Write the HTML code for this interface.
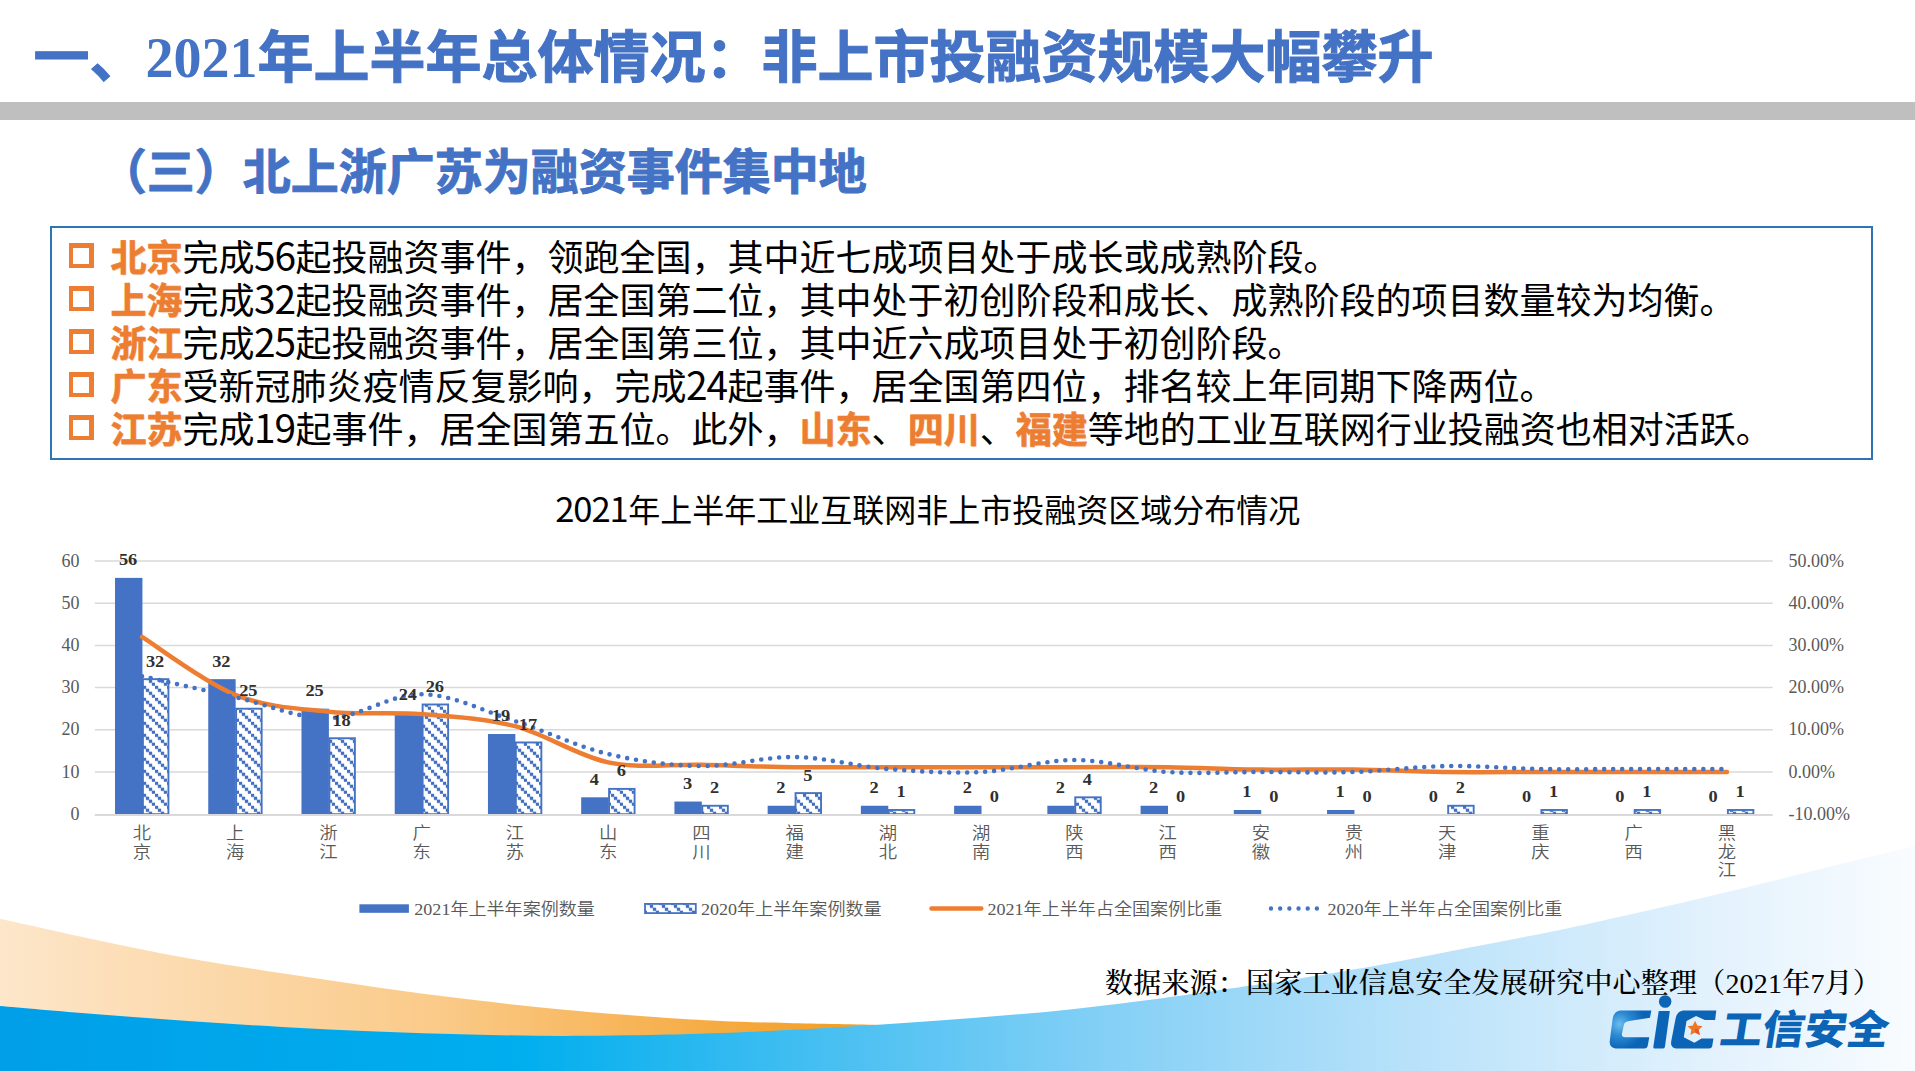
<!DOCTYPE html>
<html lang="zh-CN">
<head>
<meta charset="utf-8">
<title>2021年上半年总体情况</title>
<style>
html,body{margin:0;padding:0;}
body{width:1915px;height:1071px;position:relative;overflow:hidden;background:#fff;font-family:"Liberation Sans","Noto Sans CJK SC",sans-serif;}
.abs{position:absolute;white-space:nowrap;}
#bg{position:absolute;left:0;top:0;}
#title{left:33.5px;top:21.8px;-webkit-text-stroke:1px #4472C4;font-size:56px;line-height:72px;font-weight:700;color:#4472C4;}
#title .n{font-family:"Liberation Serif",serif;-webkit-text-stroke:0;}
#bar{position:absolute;left:0;top:102px;width:1915px;height:18px;background:#BFBFBF;}
#sub{left:98.8px;top:140.5px;-webkit-text-stroke:1px #4472C4;font-size:48px;line-height:64px;font-weight:700;color:#4472C4;}
#box{position:absolute;left:50px;top:226px;width:1819px;height:230px;border:2px solid #2E75B6;background:#fff;}
.ln{position:absolute;left:67.5px;font-size:36px;line-height:43px;height:43px;color:#000;white-space:nowrap;}
.ln b{color:#ED7D31;font-weight:700;-webkit-text-stroke:0.6px #ED7D31;text-shadow:0.6px 0.6px 1px rgba(200,100,30,.35);}
.ln .sq{position:absolute;left:1px;top:6.3px;width:25.2px;height:24.8px;background:#ED7D31;}
.ln .sq::after{content:"";position:absolute;left:4.7px;top:4.7px;right:4.7px;bottom:4.7px;background:#fff;}
.ln .t{position:absolute;left:43px;top:0;}
.d{font-family:"Noto Sans CJK SC",sans-serif;font-size:1.08em;letter-spacing:-1.1px;margin-left:-0.5px;margin-right:0.6px;line-height:0;}
#ctitle{left:0;width:1856px;text-align:center;top:487.5px;font-size:32px;line-height:46px;color:#000;}
#chart{position:absolute;left:0;top:0;}
#chart text.num{font-family:"Liberation Serif",serif;}
#chart text.cjk{font-family:"Noto Sans CJK SC",sans-serif;}
#chart text.mix{font-family:"Liberation Serif","Noto Sans CJK SC",serif;}
#src{left:1105px;top:964px;font-size:28px;line-height:40px;letter-spacing:0.2px;font-weight:500;color:#000;font-family:"Liberation Serif","Noto Serif CJK SC",serif;}
#logo{position:absolute;left:0;top:0;}
</style>
</head>
<body>
<svg id="bg" width="1915" height="1071" viewBox="0 0 1915 1071">
<defs>
<linearGradient id="gb" x1="0" y1="0" x2="1915" y2="0" gradientUnits="userSpaceOnUse">
<stop offset="0" stop-color="#009FE8"/><stop offset="0.27" stop-color="#00AEEE"/><stop offset="0.42" stop-color="#42BEF1"/><stop offset="0.58" stop-color="#85D0F6"/><stop offset="0.75" stop-color="#BCE3FA"/><stop offset="0.9" stop-color="#E4F2FD"/><stop offset="1" stop-color="#F9FCFF"/>
</linearGradient>
<linearGradient id="go" x1="0" y1="0" x2="884" y2="0" gradientUnits="userSpaceOnUse">
<stop offset="0" stop-color="#FDE6CA"/><stop offset="0.5" stop-color="#FACA88"/><stop offset="0.85" stop-color="#F5A73A"/><stop offset="1" stop-color="#F39C1F"/>
</linearGradient>
</defs>
<path d="M-10.0,916.5 C-8.3,916.9 -17.3,915.0 0.0,918.8 C17.3,922.6 62.7,932.9 94.0,939.5 C125.3,946.1 156.7,952.7 188.0,958.3 C219.3,963.9 250.7,968.5 282.0,973.3 C313.3,978.1 344.7,982.8 376.0,987.2 C407.3,991.6 438.7,995.8 470.0,999.6 C501.3,1003.4 532.7,1006.8 564.0,1009.8 C595.3,1012.8 632.0,1015.4 658.0,1017.3 C684.0,1019.2 698.3,1020.0 720.0,1021.0 C741.7,1022.0 761.0,1022.3 788.0,1023.0 C815.0,1023.7 863.3,1024.6 882.0,1025.0 C900.7,1025.4 897.0,1025.4 900.0,1025.5 L900,1071 L-10,1071 Z" fill="url(#go)"/>
<path d="M-10.0,1005.0 C-8.3,1005.2 -17.3,1004.5 0.0,1006.0 C17.3,1007.5 62.7,1011.5 94.0,1014.0 C125.3,1016.5 156.7,1018.8 188.0,1021.0 C219.3,1023.2 250.7,1025.2 282.0,1027.0 C313.3,1028.8 344.7,1030.3 376.0,1031.6 C407.3,1032.9 438.7,1033.9 470.0,1034.6 C501.3,1035.3 532.7,1035.9 564.0,1035.9 C595.3,1035.9 632.0,1035.3 658.0,1034.8 C684.0,1034.3 698.3,1033.8 720.0,1033.0 C741.7,1032.2 761.0,1031.4 788.0,1030.0 C815.0,1028.6 850.7,1026.5 882.0,1024.4 C913.3,1022.4 944.7,1020.2 976.0,1017.7 C1007.3,1015.2 1038.7,1012.7 1070.0,1009.4 C1101.3,1006.1 1132.7,1002.1 1164.0,998.0 C1195.3,993.9 1235.3,987.9 1258.0,984.6 C1280.7,981.4 1279.1,981.9 1300.0,978.5 C1320.9,975.1 1355.8,969.4 1383.6,964.3 C1411.4,959.2 1439.2,953.5 1467.0,948.1 C1494.8,942.7 1525.2,937.0 1550.7,931.8 C1576.2,926.6 1598.1,921.5 1620.0,916.7 C1641.9,911.9 1657.9,908.4 1682.0,902.8 C1706.1,897.2 1737.0,889.7 1764.5,883.0 C1792.0,876.3 1821.7,868.7 1846.8,862.5 C1871.9,856.3 1902.0,849.2 1915.0,846.0 C1928.0,842.8 1923.3,843.9 1925.0,843.5 L1925,1071 L-10,1071 Z" fill="url(#gb)"/>
</svg>
<div id="title" class="abs">一、<span class="n">2021</span>年上半年总体情况：非上市投融资规模大幅攀升</div>
<div id="bar"></div>
<div id="sub" class="abs">（三）北上浙广苏为融资事件集中地</div>
<div id="box"></div>
<div class="ln" style="top:237.2px"><span class="sq"></span><span class="t"><b>北京</b>完成<span class="d">56</span>起投融资事件，领跑全国，其中近七成项目处于成长或成熟阶段。</span></div>
<div class="ln" style="top:280.2px"><span class="sq"></span><span class="t"><b>上海</b>完成<span class="d">32</span>起投融资事件，居全国第二位，其中处于初创阶段和成长、成熟阶段的项目数量较为均衡。</span></div>
<div class="ln" style="top:323.2px"><span class="sq"></span><span class="t"><b>浙江</b>完成<span class="d">25</span>起投融资事件，居全国第三位，其中近六成项目处于初创阶段。</span></div>
<div class="ln" style="top:366.2px"><span class="sq"></span><span class="t"><b>广东</b>受新冠肺炎疫情反复影响，完成<span class="d">24</span>起事件，居全国第四位，排名较上年同期下降两位。</span></div>
<div class="ln" style="top:409.2px"><span class="sq"></span><span class="t"><b>江苏</b>完成<span class="d">19</span>起事件，居全国第五位。此外，<b>山东</b>、<b>四川</b>、<b>福建</b>等地的工业互联网行业投融资也相对活跃。</span></div>
<div id="ctitle" class="abs"><span class="d">2021</span>年上半年工业互联网非上市投融资区域分布情况</div>
<svg id="chart" width="1915" height="1071" viewBox="0 0 1915 1071">
<defs><pattern id="hatch" width="12" height="12" patternUnits="userSpaceOnUse" patternTransform="translate(11,1.8)"><rect width="12" height="12" fill="#fff"/><rect x="-0.15" y="-0.15" width="3.3" height="3.3" fill="#4170C2"/><rect x="2.85" y="2.85" width="3.3" height="3.3" fill="#4170C2"/><rect x="5.85" y="5.85" width="3.3" height="3.3" fill="#4170C2"/><rect x="8.85" y="8.85" width="3.3" height="3.3" fill="#4170C2"/></pattern></defs>
<text class="num" transform="translate(79.60,820.00) scale(1.0,1)" text-anchor="end" font-size="18" font-weight="400" fill="#595959">0</text>
<text class="num" transform="translate(1788.60,820.00) scale(1.0,1)" text-anchor="start" font-size="18" font-weight="400" fill="#595959">-10.00%</text>
<line x1="94.8" y1="772.00" x2="1772.7" y2="772.00" stroke="#D9D9D9" stroke-width="1.5"/>
<text class="num" transform="translate(79.60,777.60) scale(1.0,1)" text-anchor="end" font-size="18" font-weight="400" fill="#595959">10</text>
<text class="num" transform="translate(1788.60,777.60) scale(1.0,1)" text-anchor="start" font-size="18" font-weight="400" fill="#595959">0.00%</text>
<line x1="94.8" y1="729.80" x2="1772.7" y2="729.80" stroke="#D9D9D9" stroke-width="1.5"/>
<text class="num" transform="translate(79.60,735.40) scale(1.0,1)" text-anchor="end" font-size="18" font-weight="400" fill="#595959">20</text>
<text class="num" transform="translate(1788.60,735.40) scale(1.0,1)" text-anchor="start" font-size="18" font-weight="400" fill="#595959">10.00%</text>
<line x1="94.8" y1="687.60" x2="1772.7" y2="687.60" stroke="#D9D9D9" stroke-width="1.5"/>
<text class="num" transform="translate(79.60,693.20) scale(1.0,1)" text-anchor="end" font-size="18" font-weight="400" fill="#595959">30</text>
<text class="num" transform="translate(1788.60,693.20) scale(1.0,1)" text-anchor="start" font-size="18" font-weight="400" fill="#595959">20.00%</text>
<line x1="94.8" y1="645.40" x2="1772.7" y2="645.40" stroke="#D9D9D9" stroke-width="1.5"/>
<text class="num" transform="translate(79.60,651.00) scale(1.0,1)" text-anchor="end" font-size="18" font-weight="400" fill="#595959">40</text>
<text class="num" transform="translate(1788.60,651.00) scale(1.0,1)" text-anchor="start" font-size="18" font-weight="400" fill="#595959">30.00%</text>
<line x1="94.8" y1="603.20" x2="1772.7" y2="603.20" stroke="#D9D9D9" stroke-width="1.5"/>
<text class="num" transform="translate(79.60,608.80) scale(1.0,1)" text-anchor="end" font-size="18" font-weight="400" fill="#595959">50</text>
<text class="num" transform="translate(1788.60,608.80) scale(1.0,1)" text-anchor="start" font-size="18" font-weight="400" fill="#595959">40.00%</text>
<line x1="94.8" y1="561.00" x2="1772.7" y2="561.00" stroke="#D9D9D9" stroke-width="1.5"/>
<text class="num" transform="translate(79.60,566.60) scale(1.0,1)" text-anchor="end" font-size="18" font-weight="400" fill="#595959">60</text>
<text class="num" transform="translate(1788.60,566.60) scale(1.0,1)" text-anchor="start" font-size="18" font-weight="400" fill="#595959">50.00%</text>
<rect x="115.02" y="577.88" width="27.40" height="236.32" fill="#4472C4"/>
<rect x="142.92" y="679.16" width="25.50" height="135.04" fill="url(#hatch)" stroke="#4472C4" stroke-width="1.9"/>
<rect x="208.25" y="679.16" width="27.40" height="135.04" fill="#4472C4"/>
<rect x="236.15" y="708.70" width="25.50" height="105.50" fill="url(#hatch)" stroke="#4472C4" stroke-width="1.9"/>
<rect x="301.48" y="708.70" width="27.40" height="105.50" fill="#4472C4"/>
<rect x="329.38" y="738.24" width="25.50" height="75.96" fill="url(#hatch)" stroke="#4472C4" stroke-width="1.9"/>
<rect x="394.72" y="712.92" width="27.40" height="101.28" fill="#4472C4"/>
<rect x="422.62" y="704.48" width="25.50" height="109.72" fill="url(#hatch)" stroke="#4472C4" stroke-width="1.9"/>
<rect x="487.95" y="734.02" width="27.40" height="80.18" fill="#4472C4"/>
<rect x="515.85" y="742.46" width="25.50" height="71.74" fill="url(#hatch)" stroke="#4472C4" stroke-width="1.9"/>
<rect x="581.18" y="797.32" width="27.40" height="16.88" fill="#4472C4"/>
<rect x="609.08" y="788.88" width="25.50" height="25.32" fill="url(#hatch)" stroke="#4472C4" stroke-width="1.9"/>
<rect x="674.42" y="801.54" width="27.40" height="12.66" fill="#4472C4"/>
<rect x="702.32" y="805.76" width="25.50" height="8.44" fill="url(#hatch)" stroke="#4472C4" stroke-width="1.9"/>
<rect x="767.65" y="805.76" width="27.40" height="8.44" fill="#4472C4"/>
<rect x="795.55" y="793.10" width="25.50" height="21.10" fill="url(#hatch)" stroke="#4472C4" stroke-width="1.9"/>
<rect x="860.88" y="805.76" width="27.40" height="8.44" fill="#4472C4"/>
<rect x="888.78" y="809.98" width="25.50" height="4.22" fill="url(#hatch)" stroke="#4472C4" stroke-width="1.9"/>
<rect x="954.12" y="805.76" width="27.40" height="8.44" fill="#4472C4"/>
<rect x="1047.35" y="805.76" width="27.40" height="8.44" fill="#4472C4"/>
<rect x="1075.25" y="797.32" width="25.50" height="16.88" fill="url(#hatch)" stroke="#4472C4" stroke-width="1.9"/>
<rect x="1140.58" y="805.76" width="27.40" height="8.44" fill="#4472C4"/>
<rect x="1233.82" y="809.98" width="27.40" height="4.22" fill="#4472C4"/>
<rect x="1327.05" y="809.98" width="27.40" height="4.22" fill="#4472C4"/>
<rect x="1448.18" y="805.76" width="25.50" height="8.44" fill="url(#hatch)" stroke="#4472C4" stroke-width="1.9"/>
<rect x="1541.42" y="809.98" width="25.50" height="4.22" fill="url(#hatch)" stroke="#4472C4" stroke-width="1.9"/>
<rect x="1634.65" y="809.98" width="25.50" height="4.22" fill="url(#hatch)" stroke="#4472C4" stroke-width="1.9"/>
<rect x="1727.88" y="809.98" width="25.50" height="4.22" fill="url(#hatch)" stroke="#4472C4" stroke-width="1.9"/>
<line x1="94.8" y1="815.00" x2="1772.7" y2="815.00" stroke="#D9D9D9" stroke-width="2.2"/>
<path d="M142.02,636.96 C157.56,646.61 204.17,682.38 235.25,694.83 C266.33,707.29 297.41,708.50 328.48,711.71 C359.56,714.93 390.64,711.71 421.72,714.13 C452.79,716.54 483.87,718.14 514.95,726.18 C546.03,734.22 577.11,755.92 608.18,762.35 C639.26,768.78 670.34,763.96 701.42,764.77 C732.49,765.57 763.57,766.78 794.65,767.18 C825.73,767.58 856.81,767.18 887.88,767.18 C918.96,767.18 950.04,767.18 981.12,767.18 C1012.19,767.18 1043.27,767.18 1074.35,767.18 C1105.43,767.18 1136.51,766.78 1167.58,767.18 C1198.66,767.58 1229.74,769.19 1260.82,769.59 C1291.89,769.99 1322.97,769.19 1354.05,769.59 C1385.13,769.99 1416.21,771.60 1447.28,772.00 C1478.36,772.40 1509.44,772.00 1540.52,772.00 C1571.59,772.00 1602.67,772.00 1633.75,772.00 C1664.83,772.00 1711.44,772.00 1726.98,772.00" fill="none" stroke="#ED7D31" stroke-width="4.5" stroke-linecap="round" stroke-linejoin="round"/>
<path d="M142.02,676.23 C157.56,679.72 204.17,690.19 235.25,697.18 C266.33,704.16 297.41,718.63 328.48,718.13 C359.56,717.63 390.64,693.69 421.72,694.18 C452.79,694.68 483.87,711.14 514.95,721.12 C546.03,731.10 577.11,746.56 608.18,754.04 C639.26,761.52 670.34,765.52 701.42,766.01 C732.49,766.51 763.57,756.54 794.65,757.04 C825.73,757.53 856.81,766.51 887.88,769.01 C918.96,771.50 950.04,773.50 981.12,772.00 C1012.19,770.50 1043.27,760.03 1074.35,760.03 C1105.43,760.03 1136.51,770.00 1167.58,772.00 C1198.66,774.00 1229.74,772.00 1260.82,772.00 C1291.89,772.00 1322.97,773.00 1354.05,772.00 C1385.13,771.00 1416.21,766.51 1447.28,766.01 C1478.36,765.52 1509.44,768.51 1540.52,769.01 C1571.59,769.51 1602.67,769.01 1633.75,769.01 C1664.83,769.01 1711.44,769.01 1726.98,769.01" fill="none" stroke="#4472C4" stroke-width="4.6" stroke-linecap="round" stroke-dasharray="0 9"/>
<text class="num" transform="translate(128.12,565.28) scale(1.05,1)" text-anchor="middle" font-size="17.5" font-weight="700" fill="#303030">56</text>
<text class="num" transform="translate(155.12,666.56) scale(1.05,1)" text-anchor="middle" font-size="17.5" font-weight="700" fill="#303030">32</text>
<text class="num" transform="translate(221.35,666.56) scale(1.05,1)" text-anchor="middle" font-size="17.5" font-weight="700" fill="#303030">32</text>
<text class="num" transform="translate(248.35,696.10) scale(1.05,1)" text-anchor="middle" font-size="17.5" font-weight="700" fill="#303030">25</text>
<text class="num" transform="translate(314.58,696.10) scale(1.05,1)" text-anchor="middle" font-size="17.5" font-weight="700" fill="#303030">25</text>
<text class="num" transform="translate(341.58,725.64) scale(1.05,1)" text-anchor="middle" font-size="17.5" font-weight="700" fill="#303030">18</text>
<text class="num" transform="translate(407.82,700.32) scale(1.05,1)" text-anchor="middle" font-size="17.5" font-weight="700" fill="#303030">24</text>
<text class="num" transform="translate(434.82,691.88) scale(1.05,1)" text-anchor="middle" font-size="17.5" font-weight="700" fill="#303030">26</text>
<text class="num" transform="translate(501.05,721.42) scale(1.05,1)" text-anchor="middle" font-size="17.5" font-weight="700" fill="#303030">19</text>
<text class="num" transform="translate(528.05,729.86) scale(1.05,1)" text-anchor="middle" font-size="17.5" font-weight="700" fill="#303030">17</text>
<text class="num" transform="translate(594.28,784.72) scale(1.05,1)" text-anchor="middle" font-size="17.5" font-weight="700" fill="#303030">4</text>
<text class="num" transform="translate(621.28,776.28) scale(1.05,1)" text-anchor="middle" font-size="17.5" font-weight="700" fill="#303030">6</text>
<text class="num" transform="translate(687.52,788.94) scale(1.05,1)" text-anchor="middle" font-size="17.5" font-weight="700" fill="#303030">3</text>
<text class="num" transform="translate(714.52,793.16) scale(1.05,1)" text-anchor="middle" font-size="17.5" font-weight="700" fill="#303030">2</text>
<text class="num" transform="translate(780.75,793.16) scale(1.05,1)" text-anchor="middle" font-size="17.5" font-weight="700" fill="#303030">2</text>
<text class="num" transform="translate(807.75,780.50) scale(1.05,1)" text-anchor="middle" font-size="17.5" font-weight="700" fill="#303030">5</text>
<text class="num" transform="translate(873.98,793.16) scale(1.05,1)" text-anchor="middle" font-size="17.5" font-weight="700" fill="#303030">2</text>
<text class="num" transform="translate(900.98,797.38) scale(1.05,1)" text-anchor="middle" font-size="17.5" font-weight="700" fill="#303030">1</text>
<text class="num" transform="translate(967.22,793.16) scale(1.05,1)" text-anchor="middle" font-size="17.5" font-weight="700" fill="#303030">2</text>
<text class="num" transform="translate(994.22,801.60) scale(1.05,1)" text-anchor="middle" font-size="17.5" font-weight="700" fill="#303030">0</text>
<text class="num" transform="translate(1060.45,793.16) scale(1.05,1)" text-anchor="middle" font-size="17.5" font-weight="700" fill="#303030">2</text>
<text class="num" transform="translate(1087.45,784.72) scale(1.05,1)" text-anchor="middle" font-size="17.5" font-weight="700" fill="#303030">4</text>
<text class="num" transform="translate(1153.68,793.16) scale(1.05,1)" text-anchor="middle" font-size="17.5" font-weight="700" fill="#303030">2</text>
<text class="num" transform="translate(1180.68,801.60) scale(1.05,1)" text-anchor="middle" font-size="17.5" font-weight="700" fill="#303030">0</text>
<text class="num" transform="translate(1246.92,797.38) scale(1.05,1)" text-anchor="middle" font-size="17.5" font-weight="700" fill="#303030">1</text>
<text class="num" transform="translate(1273.92,801.60) scale(1.05,1)" text-anchor="middle" font-size="17.5" font-weight="700" fill="#303030">0</text>
<text class="num" transform="translate(1340.15,797.38) scale(1.05,1)" text-anchor="middle" font-size="17.5" font-weight="700" fill="#303030">1</text>
<text class="num" transform="translate(1367.15,801.60) scale(1.05,1)" text-anchor="middle" font-size="17.5" font-weight="700" fill="#303030">0</text>
<text class="num" transform="translate(1433.38,801.60) scale(1.05,1)" text-anchor="middle" font-size="17.5" font-weight="700" fill="#303030">0</text>
<text class="num" transform="translate(1460.38,793.16) scale(1.05,1)" text-anchor="middle" font-size="17.5" font-weight="700" fill="#303030">2</text>
<text class="num" transform="translate(1526.62,801.60) scale(1.05,1)" text-anchor="middle" font-size="17.5" font-weight="700" fill="#303030">0</text>
<text class="num" transform="translate(1553.62,797.38) scale(1.05,1)" text-anchor="middle" font-size="17.5" font-weight="700" fill="#303030">1</text>
<text class="num" transform="translate(1619.85,801.60) scale(1.05,1)" text-anchor="middle" font-size="17.5" font-weight="700" fill="#303030">0</text>
<text class="num" transform="translate(1646.85,797.38) scale(1.05,1)" text-anchor="middle" font-size="17.5" font-weight="700" fill="#303030">1</text>
<text class="num" transform="translate(1713.08,801.60) scale(1.05,1)" text-anchor="middle" font-size="17.5" font-weight="700" fill="#303030">0</text>
<text class="num" transform="translate(1740.08,797.38) scale(1.05,1)" text-anchor="middle" font-size="17.5" font-weight="700" fill="#303030">1</text>
<text class="cjk" transform="translate(142.02,839.30) scale(1.08,1)" text-anchor="middle" font-size="17" font-weight="350" fill="#595959">北</text>
<text class="cjk" transform="translate(142.02,857.60) scale(1.08,1)" text-anchor="middle" font-size="17" font-weight="350" fill="#595959">京</text>
<text class="cjk" transform="translate(235.25,839.30) scale(1.08,1)" text-anchor="middle" font-size="17" font-weight="350" fill="#595959">上</text>
<text class="cjk" transform="translate(235.25,857.60) scale(1.08,1)" text-anchor="middle" font-size="17" font-weight="350" fill="#595959">海</text>
<text class="cjk" transform="translate(328.48,839.30) scale(1.08,1)" text-anchor="middle" font-size="17" font-weight="350" fill="#595959">浙</text>
<text class="cjk" transform="translate(328.48,857.60) scale(1.08,1)" text-anchor="middle" font-size="17" font-weight="350" fill="#595959">江</text>
<text class="cjk" transform="translate(421.72,839.30) scale(1.08,1)" text-anchor="middle" font-size="17" font-weight="350" fill="#595959">广</text>
<text class="cjk" transform="translate(421.72,857.60) scale(1.08,1)" text-anchor="middle" font-size="17" font-weight="350" fill="#595959">东</text>
<text class="cjk" transform="translate(514.95,839.30) scale(1.08,1)" text-anchor="middle" font-size="17" font-weight="350" fill="#595959">江</text>
<text class="cjk" transform="translate(514.95,857.60) scale(1.08,1)" text-anchor="middle" font-size="17" font-weight="350" fill="#595959">苏</text>
<text class="cjk" transform="translate(608.18,839.30) scale(1.08,1)" text-anchor="middle" font-size="17" font-weight="350" fill="#595959">山</text>
<text class="cjk" transform="translate(608.18,857.60) scale(1.08,1)" text-anchor="middle" font-size="17" font-weight="350" fill="#595959">东</text>
<text class="cjk" transform="translate(701.42,839.30) scale(1.08,1)" text-anchor="middle" font-size="17" font-weight="350" fill="#595959">四</text>
<text class="cjk" transform="translate(701.42,857.60) scale(1.08,1)" text-anchor="middle" font-size="17" font-weight="350" fill="#595959">川</text>
<text class="cjk" transform="translate(794.65,839.30) scale(1.08,1)" text-anchor="middle" font-size="17" font-weight="350" fill="#595959">福</text>
<text class="cjk" transform="translate(794.65,857.60) scale(1.08,1)" text-anchor="middle" font-size="17" font-weight="350" fill="#595959">建</text>
<text class="cjk" transform="translate(887.88,839.30) scale(1.08,1)" text-anchor="middle" font-size="17" font-weight="350" fill="#595959">湖</text>
<text class="cjk" transform="translate(887.88,857.60) scale(1.08,1)" text-anchor="middle" font-size="17" font-weight="350" fill="#595959">北</text>
<text class="cjk" transform="translate(981.12,839.30) scale(1.08,1)" text-anchor="middle" font-size="17" font-weight="350" fill="#595959">湖</text>
<text class="cjk" transform="translate(981.12,857.60) scale(1.08,1)" text-anchor="middle" font-size="17" font-weight="350" fill="#595959">南</text>
<text class="cjk" transform="translate(1074.35,839.30) scale(1.08,1)" text-anchor="middle" font-size="17" font-weight="350" fill="#595959">陕</text>
<text class="cjk" transform="translate(1074.35,857.60) scale(1.08,1)" text-anchor="middle" font-size="17" font-weight="350" fill="#595959">西</text>
<text class="cjk" transform="translate(1167.58,839.30) scale(1.08,1)" text-anchor="middle" font-size="17" font-weight="350" fill="#595959">江</text>
<text class="cjk" transform="translate(1167.58,857.60) scale(1.08,1)" text-anchor="middle" font-size="17" font-weight="350" fill="#595959">西</text>
<text class="cjk" transform="translate(1260.82,839.30) scale(1.08,1)" text-anchor="middle" font-size="17" font-weight="350" fill="#595959">安</text>
<text class="cjk" transform="translate(1260.82,857.60) scale(1.08,1)" text-anchor="middle" font-size="17" font-weight="350" fill="#595959">徽</text>
<text class="cjk" transform="translate(1354.05,839.30) scale(1.08,1)" text-anchor="middle" font-size="17" font-weight="350" fill="#595959">贵</text>
<text class="cjk" transform="translate(1354.05,857.60) scale(1.08,1)" text-anchor="middle" font-size="17" font-weight="350" fill="#595959">州</text>
<text class="cjk" transform="translate(1447.28,839.30) scale(1.08,1)" text-anchor="middle" font-size="17" font-weight="350" fill="#595959">天</text>
<text class="cjk" transform="translate(1447.28,857.60) scale(1.08,1)" text-anchor="middle" font-size="17" font-weight="350" fill="#595959">津</text>
<text class="cjk" transform="translate(1540.52,839.30) scale(1.08,1)" text-anchor="middle" font-size="17" font-weight="350" fill="#595959">重</text>
<text class="cjk" transform="translate(1540.52,857.60) scale(1.08,1)" text-anchor="middle" font-size="17" font-weight="350" fill="#595959">庆</text>
<text class="cjk" transform="translate(1633.75,839.30) scale(1.08,1)" text-anchor="middle" font-size="17" font-weight="350" fill="#595959">广</text>
<text class="cjk" transform="translate(1633.75,857.60) scale(1.08,1)" text-anchor="middle" font-size="17" font-weight="350" fill="#595959">西</text>
<text class="cjk" transform="translate(1726.98,839.30) scale(1.08,1)" text-anchor="middle" font-size="17" font-weight="350" fill="#595959">黑</text>
<text class="cjk" transform="translate(1726.98,857.60) scale(1.08,1)" text-anchor="middle" font-size="17" font-weight="350" fill="#595959">龙</text>
<text class="cjk" transform="translate(1726.98,875.90) scale(1.08,1)" text-anchor="middle" font-size="17" font-weight="350" fill="#595959">江</text>
<rect x="359.4" y="904.3" width="49.5" height="8.5" fill="#4472C4"/>
<text class="mix" transform="translate(414.30,914.50) scale(1.063,1)" text-anchor="start" font-size="17" font-weight="350" fill="#595959">2021年上半年案例数量</text>
<rect x="645" y="903.9" width="50.8" height="9.2" fill="url(#hatch)" stroke="#4472C4" stroke-width="1.8"/>
<text class="mix" transform="translate(701.00,914.50) scale(1.063,1)" text-anchor="start" font-size="17" font-weight="350" fill="#595959">2020年上半年案例数量</text>
<line x1="931.5" y1="908.5" x2="981.3" y2="908.5" stroke="#ED7D31" stroke-width="4.5" stroke-linecap="round"/>
<text class="mix" transform="translate(987.50,914.50) scale(1.063,1)" text-anchor="start" font-size="17" font-weight="350" fill="#595959">2021年上半年占全国案例比重</text>
<line x1="1271" y1="908.5" x2="1318" y2="908.5" stroke="#4472C4" stroke-width="4.4" stroke-linecap="round" stroke-dasharray="0 9.18"/>
<text class="mix" transform="translate(1327.50,914.50) scale(1.063,1)" text-anchor="start" font-size="17" font-weight="350" fill="#595959">2020年上半年占全国案例比重</text>
</svg>
<div id="src" class="abs">数据来源：国家工业信息安全发展研究中心整理（2021年7月）</div>
<svg id="logo" width="1915" height="1071" viewBox="0 0 1915 1071">
<defs>
<radialGradient id="lg1" cx="235" cy="470" r="300" gradientUnits="userSpaceOnUse">
<stop offset="0" stop-color="#6BBDED"/><stop offset="0.45" stop-color="#2D8AD3"/><stop offset="1" stop-color="#0C64B6"/>
</radialGradient>
</defs>
<g transform="translate(1600,985) scale(0.08354)">
<path d="M615,305 L260,305 C200,305 165,335 152,400 L118,660 C108,725 140,760 205,760 L530,760 C555,760 568,748 572,725 L590,625 L300,625 C270,625 258,610 263,580 L285,480 C292,450 315,435 350,432 L598,392 Z" fill="url(#lg1)"/>
<circle cx="780" cy="197" r="75" fill="#0C64B6"/>
<path d="M703,310 L836,310 L778,735 C775,752 765,760 748,760 L660,760 C643,760 636,752 639,735 Z" fill="#0C64B6"/>
<path d="M1392,305 L1015,305 C955,305 918,335 905,400 L853,670 C842,730 870,760 930,760 L1305,760 C1328,760 1340,750 1344,728 L1358,640 L1215,640 L1130,692 L1003,625 L1036,430 L1150,372 L1255,420 L1378,420 Z" fill="#0C64B6"/>
<path d="M1138,427 L1165,485 L1228,493 L1182,536 L1194,599 L1138,568 L1082,599 L1094,536 L1048,493 L1111,485 Z" fill="#EE7724"/>
<path d="M1138,522 L1182,536 L1194,599 L1138,568 Z" fill="#E4572E"/>
</g>
<text id="lt" transform="translate(1718.5,1043.5) skewX(-9) scale(1.04,1)" font-family="'Noto Sans CJK SC',sans-serif" font-weight="900" font-size="40.5" fill="#0C64B6">工信安全</text>
</svg>

</body>
</html>
